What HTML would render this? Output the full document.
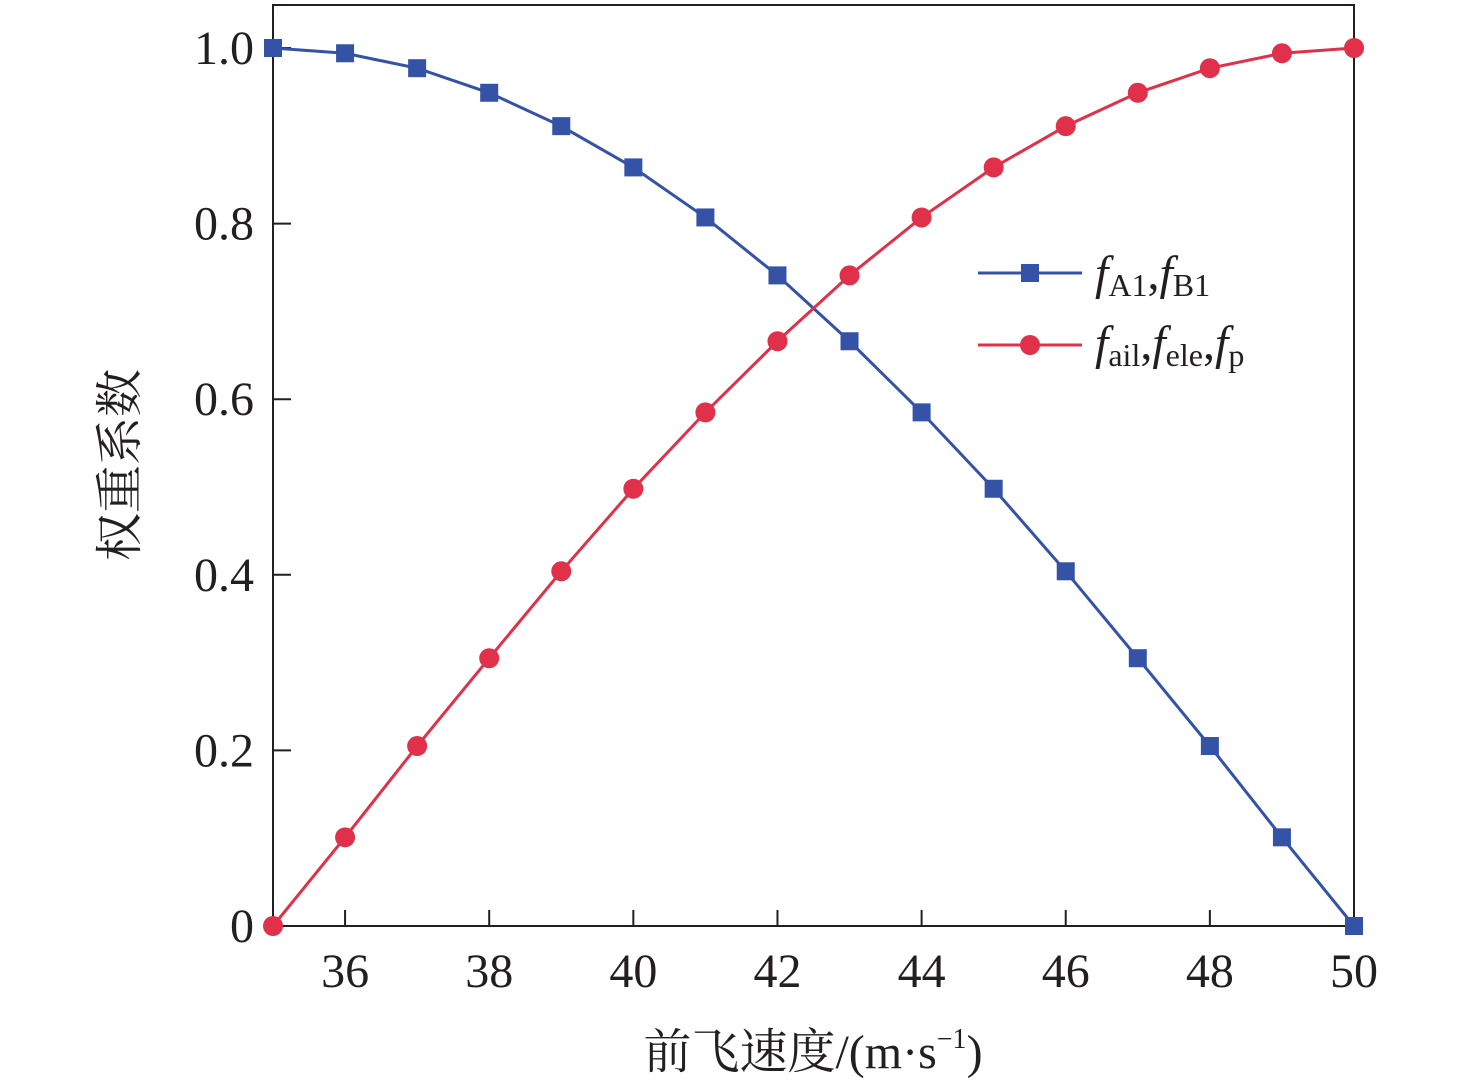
<!DOCTYPE html>
<html><head><meta charset="utf-8"><style>
html,body{margin:0;padding:0;background:#fff;}
svg{display:block;}
text{font-family:"Liberation Serif","Noto Serif CJK SC",serif;fill:#231f20;}
</style></head><body>
<svg id="chart" width="1476" height="1085" viewBox="0 0 1476 1085" xmlns="http://www.w3.org/2000/svg">
<g id="axes"></g>
<g id="series"></g>
<g id="legend">
  <line x1="978" y1="273" x2="1082" y2="273" stroke="#3452a6" stroke-width="3"/>
  <rect x="1021" y="264" width="18" height="18" fill="#3452a6"/>
  <text x="1095" y="289" font-size="48"><tspan font-style="italic">f</tspan><tspan font-size="32" dy="7">A1</tspan><tspan dy="-7">,</tspan><tspan font-style="italic">f</tspan><tspan font-size="32" dy="7">B1</tspan></text>
  <line x1="978" y1="345" x2="1082" y2="345" stroke="#e0304a" stroke-width="3"/>
  <circle cx="1030" cy="345" r="10" fill="#e0304a"/>
  <text x="1095" y="359" font-size="48"><tspan font-style="italic">f</tspan><tspan font-size="32" dy="7">ail</tspan><tspan dy="-7">,</tspan><tspan font-style="italic">f</tspan><tspan font-size="32" dy="7">ele</tspan><tspan dy="-7">,</tspan><tspan font-style="italic">f</tspan><tspan font-size="32" dy="7">p</tspan></text>
</g>
<text x="136" y="465" font-size="48" text-anchor="middle" transform="rotate(-90 136 465)">权重系数</text>
<text x="813" y="1068" font-size="48" text-anchor="middle">前飞速度/(m·s<tspan font-size="28" dy="-20">−1</tspan><tspan dy="20">)</tspan></text>
</svg>
<script>
const speeds=[35,36,37,38,39,40,41,42,43,44,45,46,47,48,49,50];
const blueValues=[1.0,0.994,0.977,0.949,0.911,0.864,0.807,0.741,0.666,0.585,0.498,0.404,0.305,0.205,0.101,0];
const redValues=[0,0.101,0.205,0.305,0.404,0.498,0.585,0.666,0.741,0.807,0.864,0.911,0.949,0.977,0.994,1.0];
const xTicks=[36,38,40,42,44,46,48,50];
const yTicks=[0,0.2,0.4,0.6,0.8,1.0];
const yTickLabels=["0","0.2","0.4","0.6","0.8","1.0"];

const NS="http://www.w3.org/2000/svg";
const X0=273,X1=1354,Y0=926,Y1=48;
function sx(v){return X0+(v-35)/(50-35)*(X1-X0);}
function sy(v){return Y0-v*(Y0-Y1);}
function mk(tag,attrs,parent){const e=document.createElementNS(NS,tag);for(const k in attrs)e.setAttribute(k,attrs[k]);parent.appendChild(e);return e;}
const axes=document.getElementById('axes');
const frame=mk('path',{d:`M${X0},${Y0} L${X0},5 L${X1},5 L${X1},${Y0} Z`,fill:'none',stroke:'#231f20','stroke-width':2},axes);


xTicks.forEach(t=>{
  const l=mk('line',{x1:sx(t),x2:sx(t),y1:Y0,y2:Y0-16,stroke:'#231f20','stroke-width':2},axes);
  
  
  const tx=mk('text',{x:sx(t),y:Y0+61,'font-size':48,'text-anchor':'middle'},axes);
  tx.textContent=t;
  
  
});
yTicks.forEach((t,i)=>{
  const l=mk('line',{x1:X0,x2:X0+18,y1:sy(t),y2:sy(t),stroke:'#231f20','stroke-width':2},axes);
  
  
  const tx=mk('text',{x:254,y:sy(t)+16,'font-size':48,'text-anchor':'end'},axes);
  tx.textContent=yTickLabels[i];
  
  
});
const series=document.getElementById('series');
function drawSeries(vals,color,shape,name){
  const pts=speeds.map((s,i)=>sx(s)+','+sy(vals[i])).join(' ');
  const pl=mk('polyline',{points:pts,fill:'none',stroke:color,'stroke-width':3},series);
  
  
  speeds.forEach((s,i)=>{
    let m;
    if(shape==='square') m=mk('rect',{x:sx(s)-9,y:sy(vals[i])-9,width:18,height:18,fill:color},series);
    else m=mk('circle',{cx:sx(s),cy:sy(vals[i]),r:10,fill:color},series);
    
    
  });
}
drawSeries(blueValues,'#3452a6','square','fa1-fb1');
drawSeries(redValues,'#e0304a','circle','fail-fele-fp');
</script>
</body></html>
